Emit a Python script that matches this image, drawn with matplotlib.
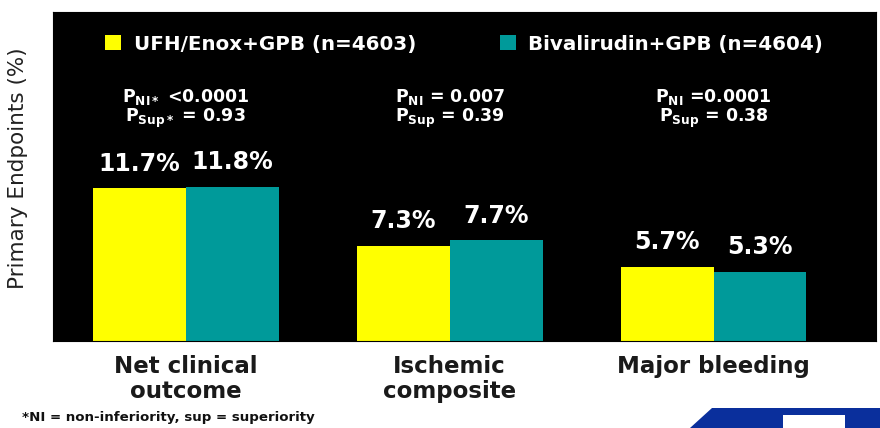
import matplotlib
matplotlib.use("Agg")
import matplotlib.pyplot as plt
from matplotlib.patches import Polygon, Rectangle
import numpy as np

plt.rcParams['font.family'] = ['DejaVu Sans']
plt.rcParams['mathtext.fontset'] = 'dejavusans'
plt.rcParams['mathtext.default'] = 'bf'

# data
categories = ["Net clinical\noutcome", "Ischemic\ncomposite", "Major bleeding"]
series_names = ["UFH/Enox+GPB (n=4603)", "Bivalirudin+GPB (n=4604)"]
ufh_values = [11.7, 7.3, 5.7]
biv_values = [11.8, 7.7, 5.3]
p_ni = ["$P_{NI*}$ <0.0001", "$P_{NI}$ = 0.007", "$P_{NI}$ =0.0001"]
p_sup = ["$P_{Sup*}$ = 0.93", "$P_{Sup}$ = 0.39", "$P_{Sup}$ = 0.38"]
footnote = "*NI = non-inferiority, sup = superiority"

yellow = "#FFFF00"
teal = "#009A9A"

fig = plt.figure(figsize=(8.8, 4.28), dpi=100)
ax = fig.add_axes([0.060, 0.2033, 0.935, 0.769])
ax.set_facecolor("black")

x = np.arange(len(categories))
w = 0.352
b1 = ax.bar(x - w / 2, ufh_values, w, color=yellow, label=series_names[0])
b2 = ax.bar(x + w / 2, biv_values, w, color=teal, label=series_names[1])

for bars, vals in [(b1, ufh_values), (b2, biv_values)]:
    for bar, v in zip(bars, vals):
        ax.annotate(f"{v}%", xy=(bar.get_x() + bar.get_width() / 2, v),
                    xytext=(0, 9), textcoords="offset points",
                    ha="center", va="bottom", color="white",
                    fontsize=17, fontweight="bold")

for i in range(len(categories)):
    ax.text(x[i], 17.8, p_ni[i] + "\n" + p_sup[i], ha="center", va="center",
            color="white", fontsize=12.5, fontweight="bold", linespacing=1.05)

ax.set_xlim(-0.504, 2.614)
ax.set_ylim(0, 25.2)
ax.set_yticks([])
ax.set_xticks(x)
ax.set_xticklabels(categories, fontsize=16.5, fontweight="bold", color="#1a1a1a",
                   linespacing=1.1)
ax.tick_params(axis="x", length=0, pad=10)

leg = ax.legend(loc="upper center", bbox_to_anchor=(0.5, 0.985), ncol=2,
                frameon=False, handlelength=0.8, handleheight=0.8,
                handletextpad=0.65, columnspacing=4.2,
                prop={"size": 14.3, "weight": "bold"})
for t in leg.get_texts():
    t.set_color("white")

fig.text(18 / 880, 1 - 168 / 428, "Primary Endpoints (%)", rotation=90,
         ha="center", va="center", fontsize=15.5, color="#222222")
fig.text(22 / 880, 1 - 418 / 428, footnote, ha="left", va="center",
         fontsize=9.6, fontweight="bold", color="#111111")

# logo corner
fig.patches.append(Polygon([(690 / 880, 0), (712 / 880, 1 - 408 / 428),
                            (1, 1 - 408 / 428), (1, 0)],
                           closed=True, transform=fig.transFigure,
                           facecolor="#0a2f9c", edgecolor="none"))
fig.patches.append(Rectangle((783 / 880, 0), 62 / 880, 13 / 428,
                             transform=fig.transFigure,
                             facecolor="white", edgecolor="none"))

fig.savefig("out.png", dpi=100)
